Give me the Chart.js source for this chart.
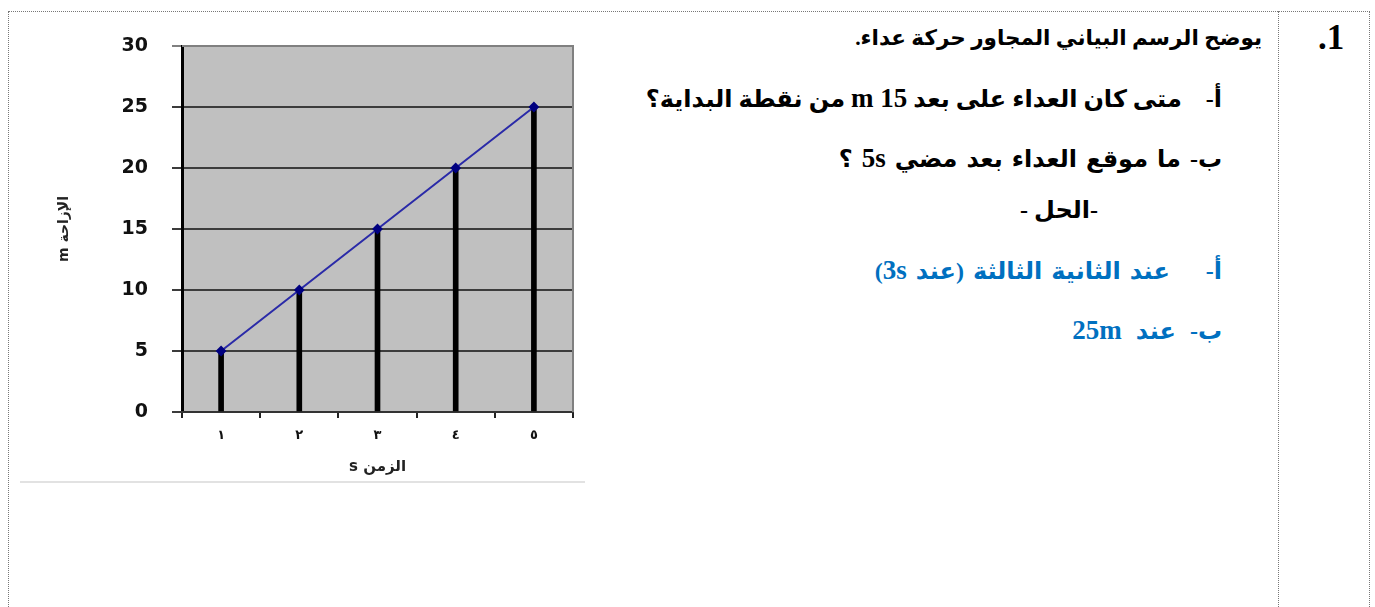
<!DOCTYPE html>
<html lang="ar">
<head>
  <meta charset="UTF-8">
  <title>حركة عداء</title>
  <script src="https://cdn.jsdelivr.net/npm/chart.js"></script>
  <style>
    body { margin: 0; width: 1375px; height: 607px; background: #fff; position: relative; overflow: hidden; }
    .line { position: absolute; border: 0 dotted #777; }
    .h { height: 0; border-top-width: 1px; }
    .v { width: 0; border-left-width: 1px; }
    #chartBox { position: absolute; left: 0; top: 0; width: 590px; height: 490px; }
    #sep { position: absolute; left: 20px; top: 481px; width: 565px; height: 2px; background: #e2e2e2; }
    .txt { position: absolute; right: 153px; direction: rtl; white-space: nowrap;
           font-family: "Liberation Serif", "DejaVu Sans", serif; font-weight: bold; font-size: 24px; line-height: 30px; }
    .txt .lat { font-family: "Liberation Serif", serif; font-size: 27px; }
    .blue { color: #0070c0; }
    #num { position: absolute; left: 1318px; top: 18px;
           font-family: "Liberation Serif", serif; font-weight: bold; font-size: 35px; line-height: 40px; }
  </style>
</head>
<body>
  <div class="line h" style="left:8px; top:11px; width:1362px;"></div>
  <div class="line v" style="left:8px; top:11px; height:600px;"></div>
  <div class="line v" style="left:1278px; top:11px; height:600px;"></div>
  <div class="line v" style="left:1369px; top:11px; height:600px;"></div>

  <div id="num"><bdo dir="rtl">1.</bdo></div>
  <div class="txt" style="top:23px; right:113px; font-size:21.5px;">يوضح الرسم البياني المجاور حركة عداء.</div>
  <div class="txt" style="top:83px;">أ-&nbsp;&nbsp;&nbsp; متى كان العداء على بعد <span class="lat">15 m</span> من نقطة البداية؟</div>
  <div class="txt" style="top:143px; word-spacing:3px;">ب- ما موقع العداء بعد مضي <span class="lat">5s</span> ؟</div>
  <div class="txt" style="top:195px; right:277px;"><bdo dir="rtl">-الحل -</bdo></div>
  <div class="txt blue" style="top:255px; word-spacing:3px;">أ-&nbsp;&nbsp;&nbsp; عند الثانية الثالثة (عند <span class="lat">3s</span>)</div>
  <div class="txt blue" style="top:315px; word-spacing:8px;">ب- عند <span class="lat">25m</span></div>

  <div id="chartBox"><canvas id="runChart"></canvas></div>
  <div id="sep"></div>

  <script>
    // الزمن (ثانية) والإزاحة (متر)
    const timeLabels = ['١', '٢', '٣', '٤', '٥'];
    const positions = [5, 10, 15, 20, 25];
    const yTicks = [0, 5, 10, 15, 20, 25, 30];
    const xTitle = 'الزمن s';
    const yTitle = 'الإزاحة m';

    // خلفية رمادية وحد علوي/أيمن لمنطقة الرسم
    const plotFrame = {
      id: 'plotFrame',
      beforeDraw(chart) {
        const a = chart.chartArea, c = chart.ctx;
        c.save();
        c.fillStyle = '#c0c0c0';
        c.fillRect(a.left, a.top, a.right - a.left, a.bottom - a.top);
        c.restore();
      },
      beforeDatasetsDraw(chart) {
        const a = chart.chartArea, c = chart.ctx;
        c.save();
        c.strokeStyle = '#808080';
        c.lineWidth = 2;
        c.beginPath();
        c.moveTo(a.left, a.top);
        c.lineTo(a.right, a.top);
        c.lineTo(a.right, a.bottom);
        c.stroke();
        c.restore();
      }
    };

    const ctx = document.getElementById('runChart').getContext('2d');
    new Chart(ctx, {
      type: 'bar',
      data: {
        labels: timeLabels,
        datasets: [
          {
            type: 'line',
            data: positions,
            borderColor: '#2a2aa8',
            borderWidth: 2,
            pointStyle: 'rectRot',
            pointRadius: 4,
            pointBackgroundColor: '#000080',
            pointBorderColor: '#000080',
            order: 0
          },
          {
            data: positions,
            backgroundColor: '#000',
            barThickness: 5,
            order: 1
          }
        ]
      },
      options: {
        responsive: true,
        maintainAspectRatio: false,
        animation: false,
        layout: { padding: { left: 0, right: 17, top: 46, bottom: 0 } },
        plugins: { legend: { display: false }, tooltip: { enabled: false } },
        scales: {
          y: {
            min: 0,
            max: 30,
            afterBuildTicks(s) { s.ticks = yTicks.map(v => ({ value: v })); },
            afterFit(s) { s.width = 182; },
            ticks: {
              color: '#111',
              padding: 24,
              font: { family: 'DejaVu Sans', size: 19, weight: 'bold' }
            },
            grid: {
              color: ctx => ctx.tick && ctx.tick.value === 30 ? '#808080' : '#3c3c3c',
              lineWidth: 2,
              tickLength: 10
            },
            border: { color: '#000', width: 3 },
            title: {
              display: true,
              text: '\u202B' + yTitle + '\u202C',
              color: '#222',
              padding: { top: 56, bottom: 0 },
              font: { family: 'DejaVu Sans', size: 14, weight: 'bold' }
            }
          },
          x: {
            afterFit(s) { s.height = 78; },
            ticks: {
              color: '#111',
              padding: 10,
              font: { family: 'DejaVu Sans', size: 13, weight: 'bold' }
            },
            grid: {
              drawOnChartArea: false,
              drawTicks: true,
              tickLength: 6,
              color: '#222',
              lineWidth: 2
            },
            border: { color: '#333', width: 2 },
            title: {
              display: true,
              text: '\u202B' + xTitle + '\u202C',
              color: '#222',
              padding: { top: 0, bottom: 14 },
              font: { family: 'DejaVu Sans', size: 15, weight: 'bold' }
            }
          }
        }
      },
      plugins: [plotFrame]
    });
  </script>
</body>
</html>
